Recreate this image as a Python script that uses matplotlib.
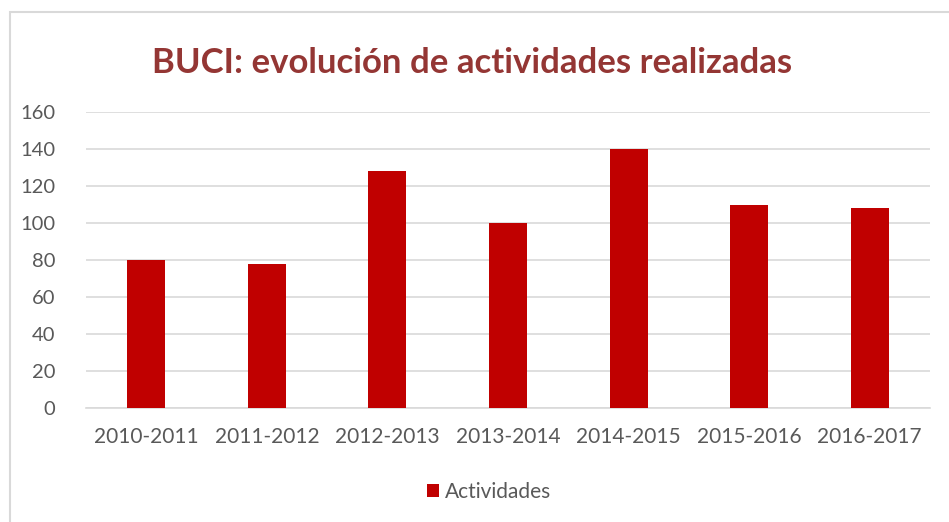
import matplotlib.pyplot as plt
from matplotlib.patches import Rectangle

# datos del gráfico
cursos = ['2010-2011', '2011-2012', '2012-2013', '2013-2014',
          '2014-2015', '2015-2016', '2016-2017']
actividades = [80, 78, 128, 100, 140, 110, 108]
ticks_y = [0, 20, 40, 60, 80, 100, 120, 140, 160]

plt.rcParams['font.family'] = ['Lato', 'DejaVu Sans']

fig = plt.figure(figsize=(9.49, 5.22), dpi=100)
# marco del gráfico
fig.patches.append(Rectangle((10/949, -0.1), 1.0, 1 - 12/522 + 0.1,
                             transform=fig.transFigure, fill=False,
                             edgecolor='#D9D9D9', lw=1.5))

ax = fig.add_axes([86/949, 1 - 408/522, (930 - 86)/949, (408 - 112)/522])
x = range(len(cursos))
ax.bar(x, actividades, width=0.315, color='#C00000', label='Actividades', zorder=3)

ax.set_xlim(-0.5, len(cursos) - 0.5)
ax.set_ylim(0, 160)
ax.set_yticks(ticks_y)
ax.set_xticks(list(x))
ax.set_xticklabels(cursos)
ax.tick_params(axis='both', length=0, labelsize=15, colors='#595959')
ax.tick_params(axis='y', labelsize=14.5, pad=22)
ax.tick_params(axis='x', pad=14)
ax.grid(axis='y', color='#D9D9D9', lw=1.2, zorder=0)
for s in ['top', 'right', 'left']:
    ax.spines[s].set_visible(False)
ax.spines['bottom'].set_color('#D9D9D9')
ax.spines['bottom'].set_linewidth(1.2)

fig.text(472/949, 1 - 63/522, 'BUCI: evolución de actividades realizadas',
         ha='center', va='center', fontsize=25, fontweight='bold', color='#943634')

fig.legend(loc='center', bbox_to_anchor=(489/949, 1 - 492/522), frameon=False,
           fontsize=15, labelcolor='#595959', handlelength=0.6, handleheight=0.6,
           handletextpad=0.3)

fig.savefig('out.png', dpi=100)
